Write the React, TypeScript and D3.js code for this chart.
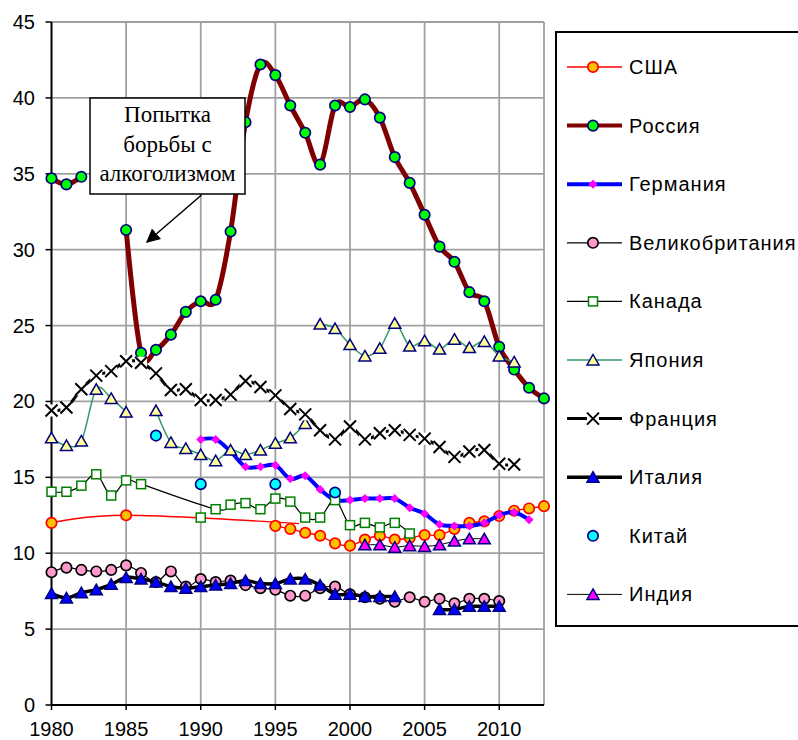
import React from "react";
import * as d3 from "d3";

// ---- data ----
const russiaYears = [1980, 1981, 1982, 1983, 1984, 1985, 1986, 1987, 1988, 1989, 1990, 1991, 1992, 1993, 1994, 1995, 1996, 1997, 1998, 1999, 2000, 2001, 2002, 2003, 2004, 2005, 2006, 2007, 2008, 2009, 2010, 2011, 2012, 2013];
const russiaValues = [34.7, 34.3, 34.8, null, null, 31.3, 23.2, 23.4, 24.4, 25.9, 26.6, 26.7, 31.2, 38.4, 42.2, 41.5, 39.5, 37.7, 35.6, 39.5, 39.4, 39.9, 38.7, 36.1, 34.4, 32.3, 30.2, 29.2, 27.2, 26.6, 23.6, 22.1, 20.9, 20.2];

const usaTrendYears = [1980, 1985, 1996.6];
const usaTrendValues = [12.0, 12.5, 11.95];
const usaYears = [1995, 1996, 1997, 1998, 1999, 2000, 2001, 2002, 2003, 2004, 2005, 2006, 2007, 2008, 2009, 2010, 2011, 2012, 2013];
const usaValues = [11.8, 11.6, 11.35, 11.15, 10.65, 10.5, 10.9, 11.15, 10.9, 11.0, 11.2, 11.2, 11.6, 12.0, 12.1, 12.45, 12.8, 12.95, 13.1];

const germanyYears = [1990, 1991, 1992, 1993, 1994, 1995, 1996, 1997, 1998, 1999, 2000, 2001, 2002, 2003, 2004, 2005, 2006, 2007, 2008, 2009, 2010, 2011, 2012];
const germanyValues = [17.5, 17.5, 16.7, 15.7, 15.7, 15.8, 14.9, 15.1, 14.2, 13.5, 13.5, 13.6, 13.6, 13.6, 13.0, 12.6, 11.9, 11.8, 11.8, 12.0, 12.5, 12.7, 12.2];

const ukYears = [1980, 1981, 1982, 1983, 1984, 1985, 1986, 1987, 1988, 1989, 1990, 1991, 1992, 1993, 1994, 1995, 1996, 1997, 1998, 1999, 2000, 2001, 2002, 2003, 2004, 2005, 2006, 2007, 2008, 2009, 2010];
const ukValues = [8.75, 9.05, 8.9, 8.8, 8.9, 9.2, 8.7, 8.1, 8.8, 7.8, 8.3, 8.1, 8.2, 7.9, 7.7, 7.6, 7.2, 7.2, 7.7, 7.8, 7.3, 7.1, 7.0, 6.8, 7.1, 6.8, 7.0, 6.7, 7.0, 7.0, 6.85];

const canadaYears = [1980, 1981, 1982, 1983, 1984, 1985, 1986, 1991, 1992, 1993, 1994, 1995, 1996, 1997, 1998, 1999, 2000, 2001, 2002, 2003, 2004];
const canadaValues = [14.05, 14.05, 14.45, 15.2, 13.8, 14.8, 14.55, 12.9, 13.2, 13.3, 12.9, 13.6, 13.4, 12.35, 12.35, 13.5, 11.85, 12.0, 11.7, 12.0, 11.3];
const canadaExtraYears = [1990];
const canadaExtraValues = [12.35];

const japanYearsA = [1980, 1981, 1982, 1983, 1984, 1985, 1986, 1987, 1988, 1989, 1990, 1991, 1992, 1993, 1994, 1995, 1996, 1997];
const japanValuesA = [17.6, 17.1, 17.4, 20.8, 20.2, 19.3, null, 19.4, 17.3, 16.9, 16.5, 16.1, 16.8, 16.5, 16.8, 17.25, 17.6, 18.55];
const japanYearsB = [1998, 1999, 2000, 2001, 2002, 2003, 2004, 2005, 2006, 2007, 2008, 2009, 2010, 2011];
const japanValuesB = [25.1, 24.8, 23.75, 23.0, 23.5, 25.15, 23.65, 24.0, 23.45, 24.1, 23.55, 23.95, 23.0, 22.6];

const franceYears = [1980, 1981, 1982, 1983, 1984, 1985, 1986, 1987, 1988, 1989, 1990, 1991, 1992, 1993, 1994, 1995, 1996, 1997, 1998, 1999, 2000, 2001, 2002, 2003, 2004, 2005, 2006, 2007, 2008, 2009, 2010, 2011];
const franceValues = [19.4, 19.6, 20.8, 21.7, 22.0, 22.65, 22.55, 21.85, 20.75, 20.8, 20.1, 20.1, 20.45, 21.35, 20.95, 20.4, 19.5, 19.15, 18.1, 17.5, 18.35, 17.5, 17.9, 18.1, 17.8, 17.55, 17.0, 16.35, 16.7, 16.8, 15.9, 15.85];

const italyYears = [1980, 1981, 1982, 1983, 1984, 1985, 1986, 1987, 1988, 1989, 1990, 1991, 1992, 1993, 1994, 1995, 1996, 1997, 1998, 1999, 2000, 2001, 2002, 2003, 2004, 2005, 2006, 2007, 2008, 2009, 2010];
const italyValues = [7.35, 7.05, 7.4, 7.6, 7.95, 8.4, 8.3, 8.1, 7.8, 7.7, 7.8, 7.9, 8.0, 8.2, 8.0, 8.0, 8.3, 8.3, 7.9, 7.3, 7.3, 7.15, 7.15, 7.15, null, null, 6.3, 6.3, 6.5, 6.5, 6.5];

const chinaYears = [1987, 1990, 1995, 1999];
const chinaValues = [17.75, 14.55, 14.55, 14.0];

const indiaYears = [2001, 2002, 2003, 2004, 2005, 2006, 2007, 2008, 2009];
const indiaValues = [10.55, 10.55, 10.4, 10.5, 10.45, 10.55, 10.8, 10.95, 10.95];

const yTicks = [0, 5, 10, 15, 20, 25, 30, 35, 40, 45];
const xTicks = [1980, 1985, 1990, 1995, 2000, 2005, 2010];
const xGrid = [1985, 1990, 1995, 2000, 2005, 2010, 2013];
const noteLines = ["Попытка", "борьбы с", "алкоголизмом"];

type Seg = { years: number[]; values: (number | null)[]; line: boolean; markerCount?: number };

const zip = (years: number[], values: (number | null)[]) => years.map((yr, i) => ({ yr, v: values[i] }));

const series = [
  { name: "США", stroke: "#ff0000", width: 1.4, marker: { shape: "circle", fill: "#ffc000", stroke: "#ff0000" },
    segs: [{ years: usaTrendYears, values: usaTrendValues, line: true, markerCount: 2 }, { years: usaYears, values: usaValues, line: true }] },
  { name: "Россия", stroke: "#800000", width: 5, marker: { shape: "circle", fill: "#00ff00", stroke: "#000080" },
    segs: [{ years: russiaYears, values: russiaValues, line: true }] },
  { name: "Германия", stroke: "#0000ff", width: 4, marker: { shape: "diamond", fill: "#ff00ff", stroke: "none" },
    segs: [{ years: germanyYears, values: germanyValues, line: true }] },
  { name: "Великобритания", stroke: "#000000", width: 1.2, marker: { shape: "circle", fill: "#ff99cc", stroke: "#000000" },
    segs: [{ years: ukYears, values: ukValues, line: true }] },
  { name: "Канада", stroke: "#000000", width: 1.2, marker: { shape: "square", fill: "#ffffff", stroke: "#008000" },
    segs: [{ years: canadaYears, values: canadaValues, line: true }, { years: canadaExtraYears, values: canadaExtraValues, line: false }] },
  { name: "Япония", stroke: "#339966", width: 1.5, marker: { shape: "triangle", fill: "#ffff99", stroke: "#000080" },
    segs: [{ years: japanYearsA, values: japanValuesA, line: true }, { years: japanYearsB, values: japanValuesB, line: true }] },
  { name: "Франция", stroke: "#000000", width: 3, marker: { shape: "x", fill: "#ffffff", stroke: "#000000" },
    segs: [{ years: franceYears, values: franceValues, line: true }] },
  { name: "Италия", stroke: "#000000", width: 3.5, marker: { shape: "triangle", fill: "#0000ff", stroke: "#000080" },
    segs: [{ years: italyYears, values: italyValues, line: true }] },
  { name: "Китай", stroke: "none", width: 0, marker: { shape: "circle", fill: "#00ffff", stroke: "#000080" },
    segs: [{ years: chinaYears, values: chinaValues, line: false }] },
  { name: "Индия", stroke: "#000000", width: 1, marker: { shape: "triangle", fill: "#ff00ff", stroke: "#000080" },
    segs: [{ years: indiaYears, values: indiaValues, line: true }] },
];

function Marker({ shape, cx, cy, fill, stroke }: any) {
  if (shape === "circle")
    return <circle cx={cx} cy={cy} r={5.2} fill={fill} stroke={stroke} strokeWidth={1.7} />;
  if (shape === "square")
    return <rect x={cx - 4.5} y={cy - 4.5} width={9} height={9} fill={fill} stroke={stroke} strokeWidth={1.5} />;
  if (shape === "triangle")
    return <path d={`M${cx},${cy - 5.5}L${cx + 6},${cy + 5}L${cx - 6},${cy + 5}Z`} fill={fill} stroke={stroke} strokeWidth={1.5} />;
  if (shape === "diamond")
    return <path d={`M${cx},${cy - 4.5}L${cx + 4.5},${cy}L${cx},${cy + 4.5}L${cx - 4.5},${cy}Z`} fill={fill} />;
  // "x"
  return (
    <g>
      <rect x={cx - 6} y={cy - 6} width={12} height={12} fill={fill} />
      <path d={`M${cx - 6},${cy - 6}L${cx + 6},${cy + 6}M${cx + 6},${cy - 6}L${cx - 6},${cy + 6}`} stroke={stroke} strokeWidth={2} />
    </g>
  );
}

export default function App() {
  const width = 798;
  const height = 740;
  const x = d3.scaleLinear().domain([1980, 2013]).range([51.5, 544]);
  const y = d3.scaleLinear().domain([0, 45]).range([705, 22]);

  const line = d3.line<{ yr: number; v: number | null }>()
    .defined(d => d.v != null)
    .x(d => x(d.yr))
    .y(d => y(d.v as number))
    .curve(d3.curveCatmullRom.alpha(0));

  const font = "Arial, 'Liberation Sans', sans-serif";
  const legendX = 567;
  const legendRow = (i: number) => 67 + i * 58.6;

  return (
    <svg width={width} height={height} style={{ position: "absolute", left: 0, top: 0, background: "#fff" }}>
      {/* grid */}
      {yTicks.filter(t => t > 0).map(t => (
        <line key={"gy" + t} x1={x(1980)} x2={x(2013)} y1={y(t)} y2={y(t)} stroke="#a0a0a0" strokeWidth={1.8} />
      ))}
      {xGrid.map(t => (
        <line key={"gx" + t} x1={x(t)} x2={x(t)} y1={y(0)} y2={y(45)} stroke="#a0a0a0" strokeWidth={1.8} />
      ))}

      {/* axes */}
      <line x1={x(1980)} x2={x(1980)} y1={y(0)} y2={y(45)} stroke="#000" strokeWidth={2} />
      <line x1={x(1980)} x2={x(2013)} y1={y(0)} y2={y(0)} stroke="#000" strokeWidth={2} />
      {yTicks.map(t => (
        <g key={"ty" + t}>
          <line x1={x(1980) - 6} x2={x(1980)} y1={y(t)} y2={y(t)} stroke="#000" strokeWidth={1.5} />
          <text x={35} y={y(t)} dy="0.35em" textAnchor="end" fontFamily={font} fontSize={20}>{t}</text>
        </g>
      ))}
      {xTicks.map(t => (
        <g key={"tx" + t}>
          <line x1={x(t)} x2={x(t)} y1={y(0)} y2={y(0) + 5} stroke="#000" strokeWidth={1.5} />
          <text x={x(t)} y={736} textAnchor="middle" fontFamily={font} fontSize={20}>{t}</text>
        </g>
      ))}

      {/* series */}
      {series.map(s => (
        <g key={s.name}>
          {s.segs.map((seg: Seg, si) => {
            const pts = zip(seg.years, seg.values);
            const shown = seg.markerCount != null ? pts.slice(0, seg.markerCount) : pts;
            return (
              <g key={si}>
                {seg.line && <path d={line(pts) || ""} fill="none" stroke={s.stroke} strokeWidth={s.width} strokeLinejoin="round" />}
                {shown.filter(p => p.v != null).map(p => (
                  <Marker key={p.yr} shape={s.marker.shape} cx={x(p.yr)} cy={y(p.v as number)} fill={s.marker.fill} stroke={s.marker.stroke} />
                ))}
              </g>
            );
          })}
        </g>
      ))}

      {/* annotation */}
      <defs>
        <marker id="arrow" viewBox="0 0 10 10" refX="9" refY="5" markerWidth="14" markerHeight="14" markerUnits="userSpaceOnUse" orient="auto">
          <path d="M0,0L10,5L0,10Z" fill="#000" />
        </marker>
      </defs>
      <rect x={90} y={98} width={155} height={96} fill="#fff" stroke="#000" strokeWidth={1.5} />
      {noteLines.map((t, i) => (
        <text key={t} x={167.5} y={114 + i * 29.5} dy="0.35em" textAnchor="middle" fontFamily="'Liberation Serif', 'Times New Roman', serif" fontSize={23}>{t}</text>
      ))}
      <line x1={201.5} y1={195} x2={147} y2={242} stroke="#000" strokeWidth={1.5} markerEnd="url(#arrow)" />

      {/* legend */}
      <rect x={556} y={32} width={250} height={594} fill="#fff" stroke="#000" strokeWidth={2} />
      {series.map((s, i) => (
        <g key={"lg" + s.name}>
          {s.stroke !== "none" && (
            <line x1={legendX} x2={legendX + 55} y1={legendRow(i)} y2={legendRow(i)} stroke={s.stroke} strokeWidth={Math.min(s.width, 4)} />
          )}
          <Marker shape={s.marker.shape} cx={legendX + 26} cy={legendRow(i)} fill={s.marker.fill} stroke={s.marker.stroke} />
          <text x={629} y={legendRow(i)} dy="0.35em" fontFamily={font} fontSize={20} letterSpacing={1}>{s.name}</text>
        </g>
      ))}
    </svg>
  );
}
